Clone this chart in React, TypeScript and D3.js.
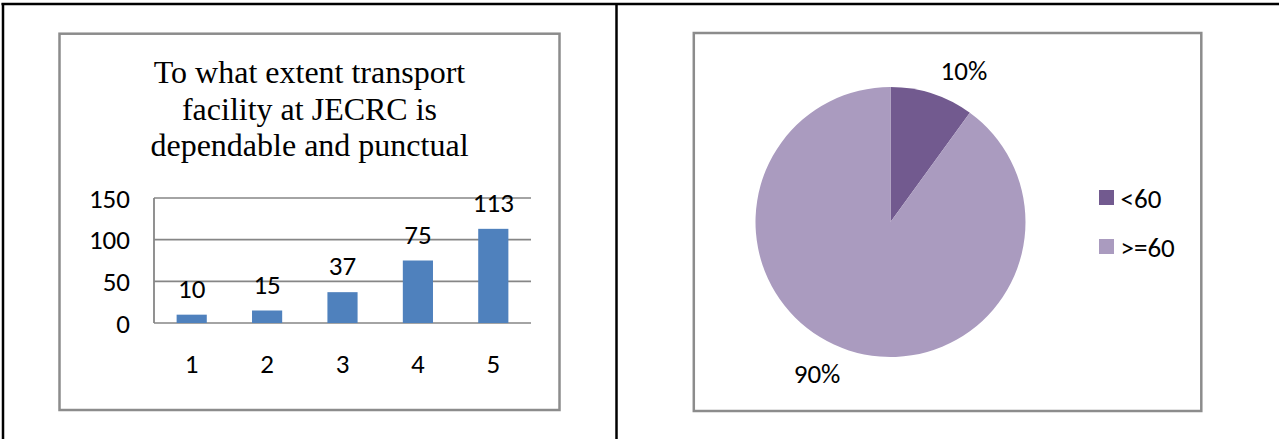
import React from "react";
import * as d3 from "d3";

const barCategories = ["1", "2", "3", "4", "5"];
const barValues = [10, 15, 37, 75, 113];
const yTicks = [0, 50, 100, 150];
const titleLines = ["To what extent transport", "facility at JECRC is", "dependable and punctual"];

const pieLabels = ["<60", ">=60"];
const pieValues = [10, 90];
const pieColors = ["#725A8F", "#AA9BBF"];

const SANS = "Calibri, Carlito, 'Open Sans', sans-serif";
const SERIF = "'Times New Roman', 'Liberation Serif', serif";
const FS = 27;

export default function App() {
  const W = 1279;
  const H = 439;

  // Bar chart scales
  const x = d3.scaleBand<string>().domain(barCategories).range([154, 531]).paddingInner(0.6).paddingOuter(0.3);
  const y = d3.scaleLinear().domain([0, 150]).range([323, 198]);

  // Pie
  const cx = 890.5;
  const cy = 222;
  const r = 135;
  const pie = d3.pie<number>().sort(null).value((d) => d)(pieValues);
  const arc = d3.arc<d3.PieArcDatum<number>>().innerRadius(0).outerRadius(r);
  const labelArc = d3.arc<d3.PieArcDatum<number>>().innerRadius(147).outerRadius(147);
  const total = d3.sum(pieValues);

  return (
    <svg width={W} height={H} style={{ position: "absolute", left: 0, top: 0, background: "#fff" }}>
      {/* table borders */}
      <line x1={1.5} x2={W} y1={4} y2={4} stroke="#000" strokeWidth={2.5} />
      <line x1={3} x2={3} y1={3} y2={H} stroke="#000" strokeWidth={2.5} />
      <line x1={616.5} x2={616.5} y1={3} y2={H} stroke="#000" strokeWidth={2.5} />

      {/* left chart box */}
      <rect x={59.5} y={33.7} width={500} height={376.3} fill="#fff" stroke="#8c8c8c" strokeWidth={2.5} />
      {titleLines.map((t, i) => (
        <text key={t} x={309.5} y={83 + i * 36.7} textAnchor="middle" fontFamily={SERIF} fontSize={32} fill="#000">
          {t}
        </text>
      ))}
      {yTicks.map((t) => (
        <g key={t}>
          <line x1={154} x2={531} y1={y(t)} y2={y(t)} stroke="#868686" strokeWidth={1.6} />
          <text x={130} y={y(t)} textAnchor="end" dominantBaseline="central" fontFamily={SANS} fontSize={FS} fill="#000">
            {t}
          </text>
        </g>
      ))}
      <line x1={154} x2={154} y1={y(150)} y2={y(0)} stroke="#868686" strokeWidth={1.8} />
      {barCategories.map((c, i) => (
        <g key={c}>
          <rect x={x(c)} y={y(barValues[i])} width={x.bandwidth()} height={y(0) - y(barValues[i])} fill="#4F81BD" />
          <text
            x={(x(c) as number) + x.bandwidth() / 2}
            y={y(barValues[i]) - 17}
            textAnchor="middle"
            fontFamily={SANS}
            fontSize={FS}
            fill="#000"
          >
            {barValues[i]}
          </text>
          <text x={(x(c) as number) + x.bandwidth() / 2} y={373} textAnchor="middle" fontFamily={SANS} fontSize={FS} fill="#000">
            {c}
          </text>
        </g>
      ))}

      {/* right chart box */}
      <rect x={693.8} y={33} width={507.5} height={378} fill="#fff" stroke="#8c8c8c" strokeWidth={2.5} />
      <g transform={`translate(${cx},${cy})`}>
        {pie.map((p, i) => (
          <path key={i} d={arc(p) as string} fill={pieColors[i]} />
        ))}
        {pie.map((p, i) => {
          const [px, py] = labelArc.centroid(p);
          const lx = px + Math.sign(px) * 28;
          const ly = py + Math.sign(py) * 12;
          return (
            <text key={"l" + i} x={lx} y={ly} textAnchor="middle" dominantBaseline="central" fontFamily={SANS} fontSize={FS} fill="#000">
              {Math.round((p.value / total) * 100) + "%"}
            </text>
          );
        })}
      </g>
      {pieLabels.map((l, i) => (
        <g key={l}>
          <rect x={1099} y={190 + i * 49} width={15} height={15} fill={pieColors[i]} />
          <text x={1120.5} y={198 + i * 49} dominantBaseline="central" fontFamily={SANS} fontSize={FS} fill="#000">
            {l}
          </text>
        </g>
      ))}
    </svg>
  );
}
